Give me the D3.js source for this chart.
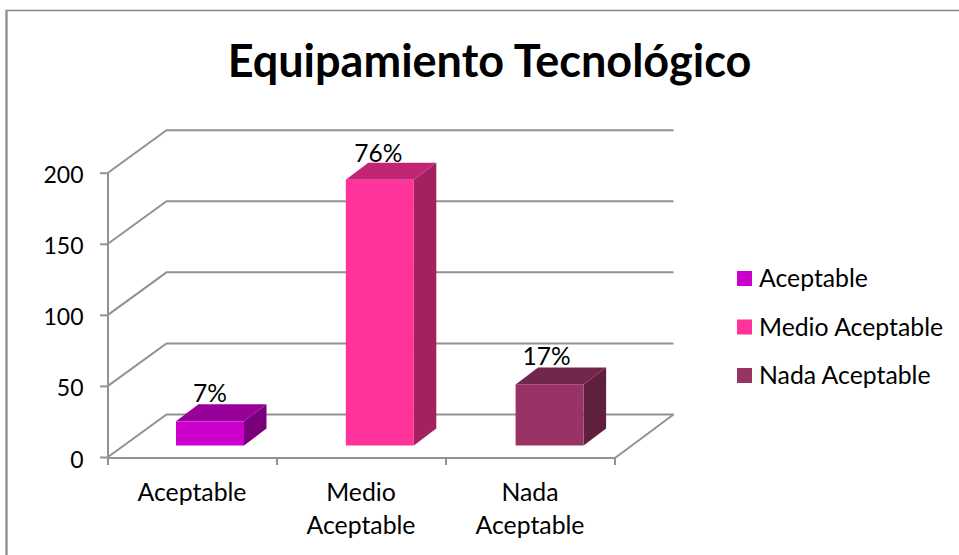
<!DOCTYPE html>
<html><head><meta charset="utf-8">
<script src="https://cdnjs.cloudflare.com/ajax/libs/d3/7.8.5/d3.min.js"></script>
<style>html,body{margin:0;padding:0;background:#fff}svg{display:block}text{font-family:Lato,"Open Sans",sans-serif;fill:#000}</style>
</head><body><svg id="c" width="959" height="555"></svg>
<script>
const titleText = "Equipamiento Tecnológico";
const categories = ["Aceptable","Medio Aceptable","Nada Aceptable"];
const categoryLines = [["Aceptable"],["Medio","Aceptable"],["Nada","Aceptable"]];
const values = [17,187,43];
const percents = ["7%","76%","17%"];
const yTicks = [0,50,100,150,200];
const colorsFront = ["#CC00CC","#FF3399","#993366"];
const colorsTop = ["#990099","#C02673","#73264D"];
const colorsSide = ["#7A007A","#A3215F","#5F1F3F"];

const svg = d3.select("#c");
const grid = "#929292";
const depthX = 58.5, depthY = 42.5;
const y = d3.scaleLinear().domain([0,200]).range([457,172.7]);
const x = d3.scaleBand().domain(categories).range([108,615]);
const barX = d3.scaleBand().domain(categories).range([176,176+3*169.8]);
const barW = 68, barDX = 22.5, barDY = 17, baseLift = 11.5;

// chart frame
svg.append("path").attr("d","M6.5,555V10.5H959").attr("fill","none").attr("stroke","#868686").attr("stroke-width",1.5);
svg.append("line").attr("x1",6.5).attr("x2",6.5).attr("y1",10).attr("y2",555).attr("stroke","#8c8c8c").attr("stroke-width",2);

svg.append("text").attr("x",489.5).attr("y",76.5).attr("text-anchor","middle")
  .attr("font-size",45).attr("font-weight",700).text(titleText);

// back wall gridlines & side wall
const gridG = svg.append("g").attr("fill","none").attr("stroke",grid).attr("stroke-width",2);
yTicks.forEach(t=>{
  gridG.append("path").attr("d",d3.line()([[108,y(t)],[108+depthX,y(t)-depthY],[615+depthX,y(t)-depthY]]));
});
gridG.append("path").attr("d",d3.line()([[615,y(0)+1],[615+depthX,y(0)-depthY]]));

// axes
const yAxis = d3.axisLeft(y).tickValues(yTicks).tickSize(8).tickSizeOuter(0).tickPadding(4);
const yg = svg.append("g").attr("transform","translate(108,0)").call(yAxis);
yg.selectAll("path,line").attr("stroke",grid).attr("stroke-width",2);
yg.selectAll("text").attr("font-size",23).attr("font-family","Lato").attr("dy","10px").attr("x",-24.5);
yg.select(".domain").attr("d",`M0,${y(200)}V${y(0)+1}`);

const xB = svg.append("g").attr("stroke",grid).attr("stroke-width",2);
xB.append("line").attr("x1",107).attr("x2",615).attr("y1",y(0)+1).attr("y2",y(0)+1);
[...categories.map(c=>x(c)),x.range()[1]].forEach(p=>{
  xB.append("line").attr("x1",p).attr("x2",p).attr("y1",y(0)).attr("y2",y(0)+8);
});
categoryLines.forEach((ls,i)=>{
  const t = svg.append("text").attr("text-anchor","middle").attr("font-size",24.8);
  ls.forEach((l,j)=>t.append("tspan").attr("x",x(categories[i])+x.bandwidth()/2-0.5).attr("y",501+j*33).text(l));
});

// bars
const g = svg.selectAll("g.bar").data(categories).join("g").attr("class","bar");
g.each(function(c,i){
  const s = d3.select(this);
  const x0 = barX(c), x1 = x0+barW;
  const yb = y(0)-baseLift, yt = y(values[i])-baseLift;
  s.append("path").attr("fill",colorsSide[i]).attr("d",d3.line()([[x1,yb],[x1+barDX,yb-barDY],[x1+barDX,yt-barDY],[x1,yt]])+"Z");
  s.append("path").attr("fill",colorsTop[i]).attr("d",d3.line()([[x0,yt],[x0+barDX,yt-barDY],[x1+barDX,yt-barDY],[x1,yt]])+"Z");
  s.append("rect").attr("x",x0).attr("y",yt).attr("width",barW).attr("height",yb-yt).attr("fill",colorsFront[i]);
  s.append("text").attr("x",x0+barW/2+[0,-1.5,-3][i]).attr("y",yt-[19.5,18,19.5][i]).attr("text-anchor","middle").attr("font-size",24.5).text(percents[i]);
});

// legend
const legendY = d3.scalePoint().domain(categories).range([278.5,375.5]);
categories.forEach((c,i)=>{
  svg.append("rect").attr("x",737).attr("y",legendY(c)-7.5).attr("width",15).attr("height",15).attr("fill",colorsFront[i]);
  svg.append("text").attr("x",759).attr("y",legendY(c)+8.5).attr("font-size",24.8).text(c);
});
</script></body></html>
